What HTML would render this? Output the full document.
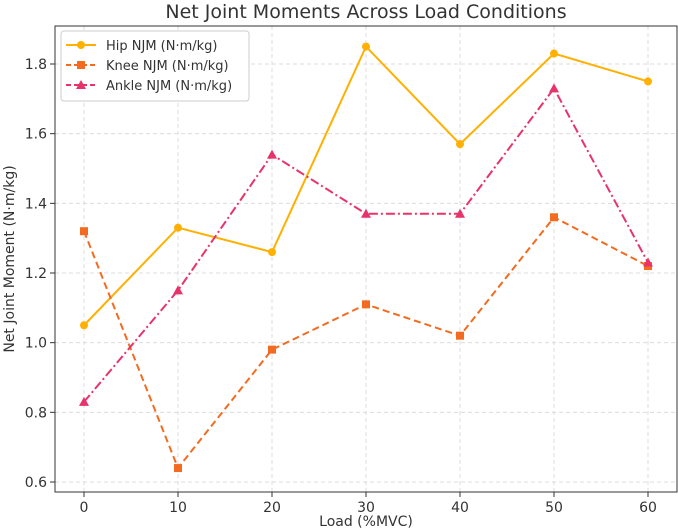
<!DOCTYPE html>
<html><head><meta charset="utf-8"><style>
html,body{margin:0;padding:0;background:#fff;}
svg{display:block;font-family:"DejaVu Sans","Liberation Sans",sans-serif;}
</style></head><body>
<svg id="chart" width="678" height="531" viewBox="0 0 678 531"></svg>
<script>
const categories=[0,10,20,30,40,50,60];
const hipValues=[1.05,1.33,1.26,1.85,1.57,1.83,1.75];
const kneeValues=[1.32,0.64,0.98,1.11,1.02,1.36,1.22];
const ankleValues=[0.83,1.15,1.54,1.37,1.37,1.73,1.23];
const yTicks=[0.6,0.8,1.0,1.2,1.4,1.6,1.8];
const xTicks=[0,10,20,30,40,50,60];
const svg=document.getElementById('chart');
const NS='http://www.w3.org/2000/svg';
const L=55,R=677,T=26,B=492;
const xs=v=>84+(v-0)*(648-84)/60;
const ys=v=>482-(v-0.6)*(482-64)/1.2;
function mk(t,a,p){const e=document.createElementNS(NS,t);for(const k in a)e.setAttribute(k,a[k]);(p||svg).appendChild(e);return e;}
// grid
xTicks.forEach(v=>{const g=mk('line',{x1:xs(v),x2:xs(v),y1:T,y2:B,stroke:'#dcdcdc','stroke-dasharray':'4,3','stroke-width':1});


const t=mk('text',{x:xs(v),y:B+20,'text-anchor':'middle','font-size':14,fill:'#333'});t.textContent=v;


mk('line',{x1:xs(v),x2:xs(v),y1:B,y2:B+5,stroke:'#333'});});
yTicks.forEach(v=>{const g=mk('line',{x1:L,x2:R,y1:ys(v),y2:ys(v),stroke:'#dcdcdc','stroke-dasharray':'4,3','stroke-width':1});


const t=mk('text',{x:L-8,y:ys(v)+5,'text-anchor':'end','font-size':14,fill:'#333'});t.textContent=v.toFixed(1);


mk('line',{x1:L-5,x2:L,y1:ys(v),y2:ys(v),stroke:'#333'});});
const frame=mk('rect',{x:L,y:T,width:R-L,height:B-T,fill:'none',stroke:'#333','stroke-width':1});


function series(vals,color,dash,marker,name){
  const pts=vals.map((v,i)=>xs(categories[i])+','+ys(v)).join(' ');
  const pl=mk('polyline',{points:pts,fill:'none',stroke:color,'stroke-width':2,'stroke-dasharray':dash});
  
  
  vals.forEach((v,i)=>{const x=xs(categories[i]),y=ys(v);let m;
    if(marker==='o')m=mk('circle',{cx:x,cy:y,r:4,fill:color});
    else if(marker==='s')m=mk('rect',{x:x-4,y:y-4,width:8,height:8,fill:color});
    else m=mk('polygon',{points:`${x},${y-5} ${x-5},${y+4} ${x+5},${y+4}`,fill:color});
    
    });
}
series(hipValues,'#FFB000','','o','hip');
series(kneeValues,'#F26B21','7,4','s','knee');
series(ankleValues,'#E8336A','9,3,2,3','^','ankle');
// title & axes labels
let t=mk('text',{x:366,y:18,'text-anchor':'middle','font-size':19,fill:'#333'});t.textContent='Net Joint Moments Across Load Conditions';

t=mk('text',{x:366,y:526,'text-anchor':'middle','font-size':14,fill:'#333'});t.textContent='Load (%MVC)';

t=mk('text',{x:0,y:0,'text-anchor':'middle','font-size':14,fill:'#333',transform:'translate(14,259) rotate(-90)'});t.textContent='Net Joint Moment (N·m/kg)';

// legend
const lg=mk('rect',{x:61,y:31,width:188,height:70,fill:'#fff',stroke:'#ccc',rx:3});

[['Hip NJM (N·m/kg)','#FFB000','','o'],['Knee NJM (N·m/kg)','#F26B21','5,3','s'],['Ankle NJM (N·m/kg)','#E8336A','5,3','^']].forEach((e,i)=>{
  const y=45+i*20;
  mk('line',{x1:66,x2:96,y1:y,y2:y,stroke:e[1],'stroke-width':2,'stroke-dasharray':e[2]});
  if(e[3]==='o')mk('circle',{cx:81,cy:y,r:4,fill:e[1]});
  else if(e[3]==='s')mk('rect',{x:77,y:y-4,width:8,height:8,fill:e[1]});
  else mk('polygon',{points:`81,${y-5} 76,${y+4} 86,${y+4}`,fill:e[1]});
  const tx=mk('text',{x:106,y:y+5,'font-size':13,fill:'#333'});tx.textContent=e[0];
  
  
});
</script>
</body></html>
